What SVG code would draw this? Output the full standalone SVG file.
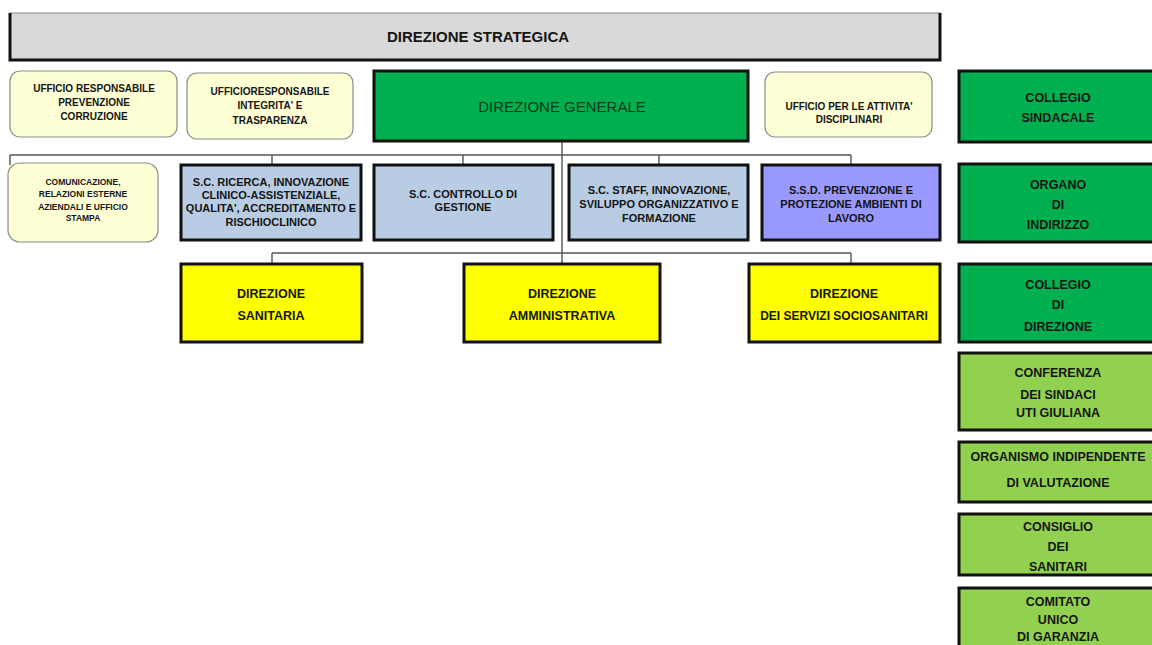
<svg xmlns="http://www.w3.org/2000/svg" width="1152" height="645" viewBox="0 0 1152 645">
<style>
text{font-family:"Liberation Sans",Arial,sans-serif;font-weight:bold;fill:#151515;text-anchor:middle}
.uff{fill:#FFFFD6;stroke:#8a8a8a;stroke-width:1.2}
.box{stroke:#111;stroke-width:3}
.blue{fill:#B8CCE4}
.purple{fill:#9999FF}
.yellow{fill:#FFFF00}
.dkgreen{fill:#00B050}
.ltgreen{fill:#92D050}
.conn{stroke:#555;stroke-width:1.4;fill:none}
.s10{font-size:10px}
.s85{font-size:8.5px}
.s11{font-size:11px}
.s12{font-size:12.5px}
</style>
<rect width="1152" height="645" fill="#ffffff"/>

<g id="connectors">
<path class="conn" d="M10 155H851M10 155V165M272 155V165M463 155V165M659 155V165M851 155V165"/>
<path class="conn" d="M562 142V264M272 253H851M272 253V263M851 253V263M562 253V263"/>
</g>

<g id="direzione-strategica">
<rect x="10" y="13" width="930" height="47" fill="#D9D9D9" stroke="#888" stroke-width="1"/>
<path d="M10 13V60H940V13" fill="none" stroke="#111" stroke-width="3"/>
<text x="478" y="42" style="font-size:15px">DIREZIONE STRATEGICA</text>
</g>

<g id="uff-corruzione">
<rect class="uff" x="10" y="71" width="167" height="66" rx="10"/>
<text class="s10" x="94" y="92">UFFICIO RESPONSABILE</text>
<text class="s10" x="94" y="106">PREVENZIONE</text>
<text class="s10" x="94" y="120">CORRUZIONE</text>
</g>

<g id="uff-integrita">
<rect class="uff" x="187" y="73" width="166" height="66" rx="10"/>
<text class="s10" x="270" y="95">UFFICIORESPONSABILE</text>
<text class="s10" x="270" y="109">INTEGRITA' E</text>
<text class="s10" x="270" y="124">TRASPARENZA</text>
</g>

<g id="direzione-generale">
<rect class="box dkgreen" x="374" y="71" width="374" height="70"/>
<text x="562" y="112" style="font-size:15px;font-weight:normal;fill:#0b3618">DIREZIONE GENERALE</text>
</g>

<g id="uff-disciplinari">
<rect class="uff" x="765" y="72" width="167" height="65" rx="10"/>
<text class="s10" x="849" y="110">UFFICIO PER LE ATTIVITA'</text>
<text class="s10" x="849" y="123">DISCIPLINARI</text>
</g>

<g id="comunicazione">
<rect class="uff" x="8" y="163" width="150" height="79" rx="12"/>
<text class="s85" x="83" y="185">COMUNICAZIONE,</text>
<text class="s85" x="83" y="197">RELAZIONI  ESTERNE</text>
<text class="s85" x="83" y="210">AZIENDALI  E UFFICIO</text>
<text class="s85" x="83" y="221">STAMPA</text>
</g>

<g id="sc-ricerca">
<rect class="box blue" x="181" y="165" width="180" height="75"/>
<text class="s11" x="271" y="186">S.C. RICERCA, INNOVAZIONE</text>
<text class="s11" x="271" y="199">CLINICO-ASSISTENZIALE,</text>
<text class="s11" x="271" y="212">QUALITA', ACCREDITAMENTO E</text>
<text class="s11" x="271" y="226">RISCHIOCLINICO</text>
</g>

<g id="sc-controllo">
<rect class="box blue" x="374" y="165" width="179" height="75"/>
<text class="s11" x="463" y="198">S.C. CONTROLLO DI</text>
<text class="s11" x="463" y="211">GESTIONE</text>
</g>

<g id="sc-staff">
<rect class="box blue" x="569" y="165" width="179" height="75"/>
<text class="s11" x="659" y="194">S.C. STAFF, INNOVAZIONE,</text>
<text class="s11" x="659" y="208">SVILUPPO ORGANIZZATIVO E</text>
<text class="s11" x="659" y="222">FORMAZIONE</text>
</g>

<g id="ssd-prevenzione">
<rect class="box purple" x="762" y="165" width="178" height="75"/>
<text class="s11" x="851" y="194">S.S.D. PREVENZIONE E</text>
<text class="s11" x="851" y="208">PROTEZIONE AMBIENTI DI</text>
<text class="s11" x="851" y="222">LAVORO</text>
</g>

<g id="dir-sanitaria">
<rect class="box yellow" x="181" y="264" width="181" height="78"/>
<text class="s12" x="271" y="298">DIREZIONE</text>
<text class="s12" x="271" y="320">SANITARIA</text>
</g>

<g id="dir-amministrativa">
<rect class="box yellow" x="464" y="264" width="196" height="78"/>
<text class="s12" x="562" y="298">DIREZIONE</text>
<text class="s12" x="562" y="320">AMMINISTRATIVA</text>
</g>

<g id="dir-sociosanitari">
<rect class="box yellow" x="749" y="264" width="191" height="78"/>
<text class="s12" x="844" y="298">DIREZIONE</text>
<text class="s12" x="844" y="320" style="font-size:12px">DEI SERVIZI SOCIOSANITARI</text>
</g>

<g id="collegio-sindacale">
<rect class="box dkgreen" x="959" y="71" width="200" height="71"/>
<text class="s12" x="1058" y="102">COLLEGIO</text>
<text class="s12" x="1058" y="122">SINDACALE</text>
</g>

<g id="organo-indirizzo">
<rect class="box dkgreen" x="959" y="164" width="200" height="78"/>
<text class="s12" x="1058" y="189">ORGANO</text>
<text class="s12" x="1058" y="209">DI</text>
<text class="s12" x="1058" y="229">INDIRIZZO</text>
</g>

<g id="collegio-direzione">
<rect class="box dkgreen" x="959" y="264" width="200" height="78"/>
<text class="s12" x="1058" y="289">COLLEGIO</text>
<text class="s12" x="1058" y="309">DI</text>
<text class="s12" x="1058" y="331">DIREZIONE</text>
</g>

<g id="conferenza-sindaci">
<rect class="box ltgreen" x="959" y="353" width="200" height="77"/>
<text class="s12" x="1058" y="377">CONFERENZA</text>
<text class="s12" x="1058" y="399">DEI SINDACI</text>
<text class="s12" x="1058" y="417">UTI GIULIANA</text>
</g>

<g id="oiv">
<rect class="box ltgreen" x="959" y="442" width="200" height="60"/>
<text class="s12" x="1058" y="461">ORGANISMO INDIPENDENTE</text>
<text class="s12" x="1058" y="487">DI VALUTAZIONE</text>
</g>

<g id="consiglio-sanitari">
<rect class="box ltgreen" x="959" y="514" width="200" height="61"/>
<text class="s12" x="1058" y="531">CONSIGLIO</text>
<text class="s12" x="1058" y="551">DEI</text>
<text class="s12" x="1058" y="571">SANITARI</text>
</g>

<g id="comitato-garanzia">
<rect class="box ltgreen" x="959" y="588" width="200" height="70"/>
<text class="s12" x="1058" y="606">COMITATO</text>
<text class="s12" x="1058" y="624">UNICO</text>
<text class="s12" x="1058" y="641">DI GARANZIA</text>
</g>
</svg>
